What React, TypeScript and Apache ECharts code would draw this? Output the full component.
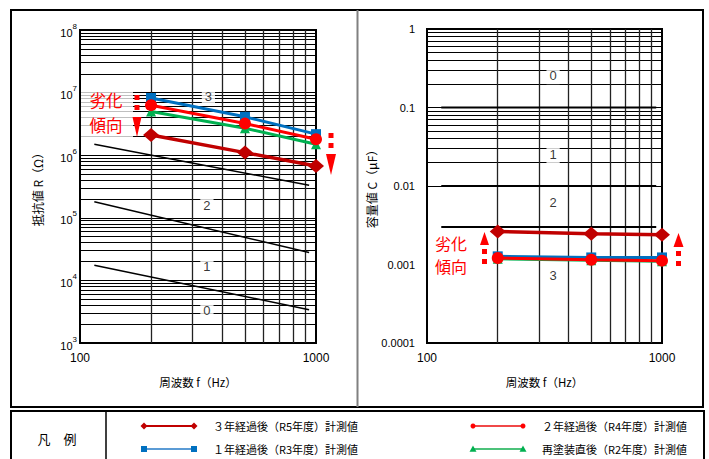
import React, { useEffect, useRef } from "react";
import * as echarts from "echarts";

// ---------- data ----------
const FREQS = [200, 500, 1000];
const SERIES_NAMES = [
  "３年経過後（R5年度）計測値",
  "２年経過後（R4年度）計測値",
  "１年経過後（R3年度）計測値",
  "再塗装直後（R2年度）計測値",
];
// resistance R (Ω)
const R_R5 = [2.1e6, 1.1e6, 6.7e5];
const R_R4 = [6.3e6, 3.2e6, 1.8e6];
const R_R3 = [8.2e6, 4.1e6, 2.17e6];
const R_R2 = [5.0e6, 2.7e6, 1.5e6];
// capacitance C (μF)
const C_R5 = [0.00264, 0.00247, 0.0024];
const C_R4 = [0.00121, 0.00115, 0.00112];
const C_R3 = [0.00127, 0.00123, 0.00123];
const C_R2 = [0.00118, 0.00113, 0.0011];

// reference (rank boundary) lines
const R_REF_LINES = [
  [[115, 1.5e6], [935, 3.3e5]],
  [[115, 1.8e5], [935, 2.8e4]],
  [[115, 1.75e4], [935, 3.4e3]],
];
const C_REF_LEVELS = [0.1, 0.01, 0.003];
const C_REF_FREQ = [115, 945];
const R_RANK_LABELS: [number, number, string][] = [
  [350, 8.8e6, "3"],
  [345, 1.58e5, "2"],
  [345, 1.67e4, "1"],
  [345, 3.3e3, "0"],
];
const C_RANK_LABELS: [number, number, string][] = [
  [344, 0.254, "0"],
  [344, 0.025, "1"],
  [344, 0.0062, "2"],
  [344, 0.00072, "3"],
];
const GRID_FREQS = [200, 300, 400, 500, 600, 700, 800, 900];
const MINOR_MULT = [1, 2, 3, 4, 5, 6, 7, 8, 9];
const TREND_LINES = ["劣化", "傾向"];

const FONT = '"Liberation Sans", "Noto Sans CJK JP", sans-serif';
const CJK = '"Noto Sans CJK JP", sans-serif';

const STYLES = [
  { color: "#C00000", legendLine: "#C00000", symbol: "diamond", size: [16, 14], width: 3.5, lsize: 7 },
  { color: "#FF0000", legendLine: "#F04848", symbol: "circle", size: 12, width: 3, lsize: 5 },
  { color: "#0070C0", legendLine: "#5B9BD5", symbol: "rect", size: 10, width: 3, lsize: 6 },
  { color: "#00B050", legendLine: "#4CC27A", symbol: "triangle", size: 10, width: 3, lsize: 7 },
];

function logGridValues(minExp: number, maxExp: number) {
  const out: number[] = [];
  for (let e = minExp; e < maxExp; e++) {
    for (const m of MINOR_MULT) {
      if (e === minExp && m === 1) continue;
      out.push(m * Math.pow(10, e));
    }
  }
  return out;
}

function gridSeries(idx: number, minExp: number, maxExp: number) {
  const h = logGridValues(minExp, maxExp).map((v) => ({
    yAxis: v,
    lineStyle: { color: "#000", width: 1.1, type: "solid" },
  }));
  const v = GRID_FREQS.map((f) => ({
    xAxis: f,
    lineStyle: { color: "#222", width: 1.3, type: "solid" },
  }));
  return {
    type: "line",
    xAxisIndex: idx,
    yAxisIndex: idx,
    data: [],
    silent: true,
    z: 1,
    markLine: {
      silent: true,
      z: 1,
      symbol: ["none", "none"],
      label: { show: false },
      emphasis: { disabled: true },
      animation: false,
      data: [...h, ...v],
    },
  };
}

function dataSeries(idx: number, values: number[][]) {
  // drawing order: R2 (green), R3 (blue), R4 (red), R5 (dark red)
  const order = [3, 2, 1, 0];
  return order.map((k) => {
    const s = STYLES[k];
    return {
      type: "line",
      name: SERIES_NAMES[k],
      xAxisIndex: idx,
      yAxisIndex: idx,
      z: 5 + (3 - k),
      data: FREQS.map((f, i) => [f, values[k][i]]),
      symbol: s.symbol,
      symbolSize: s.size,
      showSymbol: true,
      lineStyle: { color: s.color, width: s.width },
      itemStyle: { color: s.color },
      silent: true,
    };
  });
}

function rankLabelSeries(idx: number, labels: [number, number, string][]) {
  return {
    type: "scatter",
    xAxisIndex: idx,
    yAxisIndex: idx,
    z: 10,
    symbol: "rect",
    symbolSize: 0.1,
    itemStyle: { color: "rgba(0,0,0,0)" },
    silent: true,
    data: labels.map((d) => ({ value: [d[0], d[1]], name: d[2] })),
    label: {
      show: true,
      position: "inside",
      formatter: "{b}",
      color: "#000",
      fontSize: 13,
      fontFamily: FONT,
      backgroundColor: "#fff",
      padding: [2, 3],
    },
  };
}

function arrow(x: number, dashStart: number, dashEnd: number, baseY: number, tipY: number, w: number) {
  return [
    {
      type: "line",
      z: 120,
      shape: { x1: x, y1: dashStart, x2: x, y2: dashEnd },
      style: { stroke: "#FF0000", lineWidth: 5, lineDash: [5, 5] },
    },
    {
      type: "polygon",
      z: 120,
      shape: { points: [[x - w / 2, baseY], [x + w / 2, baseY], [x, tipY]] },
      style: { fill: "#FF0000" },
    },
  ];
}

function legendItem(k: number, x1: number, y: number, tx: number) {
  const s = STYLES[k];
  const els: any[] = [
    {
      type: "line",
      z: 100,
      shape: { x1, y1: y, x2: x1 + 50, y2: y },
      style: { stroke: s.legendLine, lineWidth: 2 },
    },
  ];
  for (const cx of [x1, x1 + 50]) {
    const r = s.lsize / 2;
    if (s.symbol === "diamond") {
      els.push({ type: "polygon", z: 101, shape: { points: [[cx - r, y], [cx, y - r], [cx + r, y], [cx, y + r]] }, style: { fill: s.color } });
    } else if (s.symbol === "circle") {
      els.push({ type: "circle", z: 101, shape: { cx, cy: y, r }, style: { fill: s.color } });
    } else if (s.symbol === "rect") {
      els.push({ type: "rect", z: 101, shape: { x: cx - r, y: y - r, width: 2 * r, height: 2 * r }, style: { fill: s.color } });
    } else {
      els.push({ type: "polygon", z: 101, shape: { points: [[cx - r, y + r * 0.8], [cx + r, y + r * 0.8], [cx, y - r]] }, style: { fill: s.color } });
    }
  }
  els.push({
    type: "text",
    z: 101,
    x: tx,
    y,
    style: { text: SERIES_NAMES[k], fill: "#000", font: `11px ${CJK}`, verticalAlign: "middle", align: "left" },
  });
  return els;
}

function supLabel(v: number) {
  const e = Math.round(Math.log10(v));
  return `{b|10}{s|${e}}`;
}
function decLabel(v: number) {
  const e = Math.round(Math.log10(v));
  return e >= 0 ? String(Math.pow(10, e)) : Math.pow(10, e).toFixed(-e);
}
function freqLabel(v: number) {
  return String(Math.round(v));
}

const xAxisBase = (idx: number) => ({
  type: "log",
  logBase: 10,
  gridIndex: idx,
  min: 100,
  max: 1000,
  axisLine: { show: true, lineStyle: { color: "#000", width: 2 } },
  axisTick: { show: false },
  splitLine: { show: false },
  axisLabel: { color: "#000", fontSize: 12, fontFamily: FONT, margin: 9, formatter: freqLabel, showMinLabel: true, showMaxLabel: true },
  name: "周波数 f（Hz）",
  nameLocation: "middle",
  nameGap: 33,
  nameTextStyle: { color: "#000", fontSize: 11.5, fontFamily: CJK },
});

export default function App() {
  const ref = useRef<HTMLDivElement>(null);
  useEffect(() => {
    document.body.style.margin = "0";
    if (!ref.current) return;
    const chart = echarts.init(ref.current, undefined, { renderer: "svg" });

    const rValues = [R_R5, R_R4, R_R3, R_R2];
    const cValues = [C_R5, C_R4, C_R3, C_R2];

    const trendText = (x: number, ys: number[], size: number) =>
      TREND_LINES.map((t, i) => ({
        type: "text",
        z: 111,
        x,
        y: ys[i],
        style: {
          text: t,
          fill: "#FF0000",
          font: `${size}px ${CJK}`,
          align: "center",
          verticalAlign: "middle",
        },
      }));

    const option: any = {
      animation: false,
      backgroundColor: "#fff",
      textStyle: { fontFamily: FONT },
      grid: [
        { left: 80, top: 30, width: 236, height: 313, show: true, borderColor: "#000", borderWidth: 2, backgroundColor: "#fff" },
        { left: 427, top: 29, width: 235, height: 314, show: true, borderColor: "#000", borderWidth: 2, backgroundColor: "#fff" },
      ],
      xAxis: [xAxisBase(0), xAxisBase(1)],
      yAxis: [
        {
          type: "log",
          logBase: 10,
          gridIndex: 0,
          min: 1e3,
          max: 1e8,
          axisLine: { show: true, lineStyle: { color: "#000", width: 2 } },
          axisTick: { show: false },
          splitLine: { show: false },
          axisLabel: {
            margin: 3,
            formatter: supLabel,
            showMinLabel: true,
            showMaxLabel: true,
            rich: {
              b: { fontSize: 11, color: "#000", fontFamily: FONT, lineHeight: 16, verticalAlign: "bottom" },
              s: { fontSize: 8, color: "#000", fontFamily: FONT, lineHeight: 10, verticalAlign: "top" },
            },
          },
          name: "抵抗値 R（Ω）",
          nameLocation: "middle",
          nameGap: 37,
          nameTextStyle: { color: "#000", fontSize: 12, fontFamily: CJK },
        },
        {
          type: "log",
          logBase: 10,
          gridIndex: 1,
          min: 1e-4,
          max: 1,
          axisLine: { show: true, lineStyle: { color: "#000", width: 2 } },
          axisTick: { show: false },
          splitLine: { show: false },
          axisLabel: { margin: 12, formatter: decLabel, color: "#000", fontSize: 11, fontFamily: FONT, showMinLabel: true, showMaxLabel: true },
          name: "容量値 C（μF）",
          nameLocation: "middle",
          nameGap: 47,
          nameTextStyle: { color: "#000", fontSize: 12, fontFamily: CJK },
        },
      ],
      series: [
        gridSeries(0, 3, 8),
        gridSeries(1, -4, 0),
        ...R_REF_LINES.map((ln) => ({
          type: "line",
          xAxisIndex: 0,
          yAxisIndex: 0,
          z: 3,
          silent: true,
          symbol: "none",
          data: ln,
          lineStyle: { color: "#000", width: 1.5 },
        })),
        ...C_REF_LEVELS.map((lv) => ({
          type: "line",
          xAxisIndex: 1,
          yAxisIndex: 1,
          z: 3,
          silent: true,
          symbol: "none",
          data: C_REF_FREQ.map((f) => [f, lv]),
          lineStyle: { color: "#000", width: 2 },
        })),
        ...dataSeries(0, rValues),
        ...dataSeries(1, cValues),
        rankLabelSeries(0, R_RANK_LABELS),
        rankLabelSeries(1, C_RANK_LABELS),
      ],
      graphic: [
        // main frame
        { type: "rect", z: 90, shape: { x: 11, y: 10, width: 692, height: 397 }, style: { fill: "none", stroke: "#000", lineWidth: 2 } },
        { type: "line", z: 90, shape: { x1: 357.5, y1: 10, x2: 357.5, y2: 407 }, style: { stroke: "#808080", lineWidth: 2 } },
        // legend frame
        { type: "rect", z: 90, shape: { x: 11, y: 411, width: 693, height: 60 }, style: { fill: "none", stroke: "#000", lineWidth: 2 } },
        { type: "line", z: 90, shape: { x1: 106, y1: 411, x2: 106, y2: 470 }, style: { stroke: "#000", lineWidth: 1.5 } },
        { type: "text", z: 100, x: 57, y: 438, style: { text: "凡　例", fill: "#000", font: `13px ${CJK}`, align: "center", verticalAlign: "middle" } },
        ...legendItem(0, 144, 426, 213),
        ...legendItem(1, 473, 426, 542),
        ...legendItem(2, 144, 449, 213),
        ...legendItem(3, 473, 449, 542),
        // trend annotations
        { type: "rect", z: 110, shape: { x: 81, y: 88, width: 52, height: 49 }, style: { fill: "rgba(255,255,255,0.75)" } },
        ...trendText(106, [100, 125], 16.5),
        { type: "rect", z: 110, shape: { x: 429, y: 232, width: 48, height: 46 }, style: { fill: "rgba(255,255,255,0.75)" } },
        ...trendText(451, [242.5, 266], 16),
        ...arrow(137, 95, 115, 117, 137, 9),
        ...arrow(331, 133, 150, 154, 175, 10),
        ...arrow(484.5, 264, 248, 245, 232, 9),
        ...arrow(678.5, 266, 250, 247, 233, 10),
      ],
    };
    chart.setOption(option);
    return () => chart.dispose();
  }, []);
  return <div ref={ref} style={{ width: 709, height: 459 }} />;
}
